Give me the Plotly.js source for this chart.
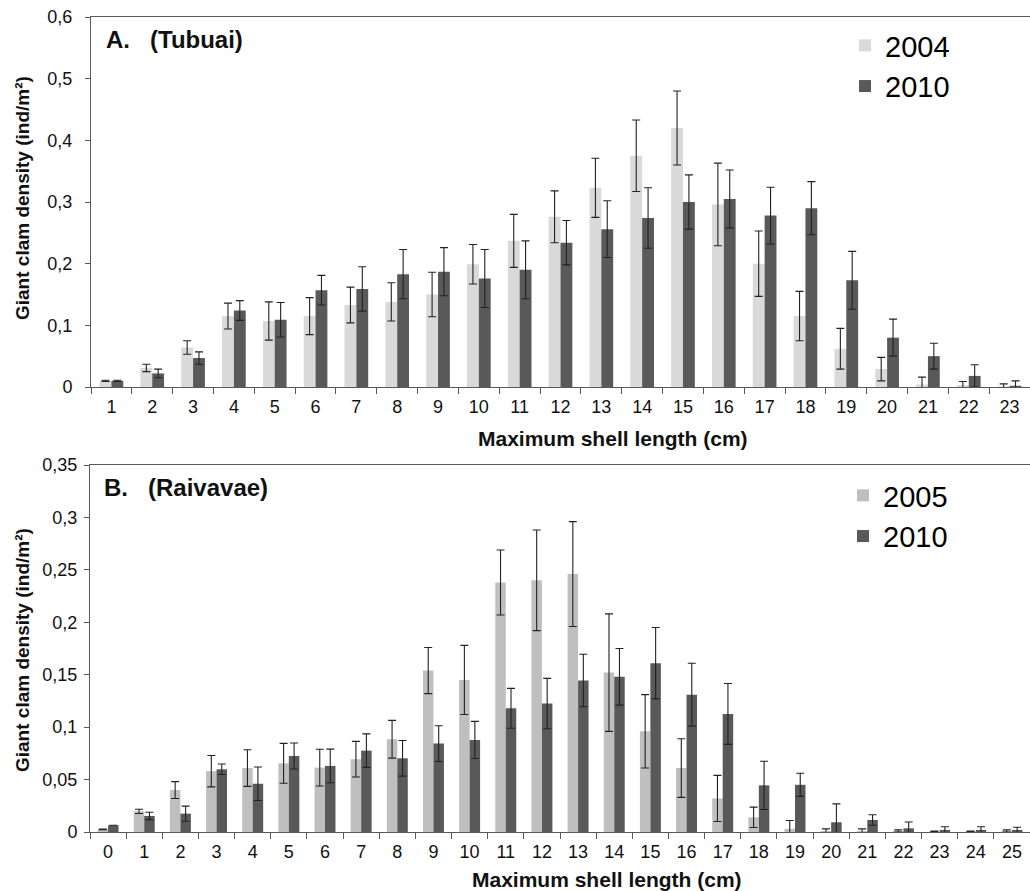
<!DOCTYPE html>
<html>
<head>
<meta charset="utf-8">
<script src="https://cdn.plot.ly/plotly-3.0.1.min.js"></script>
<style>
  html, body { margin: 0; padding: 0; background: #ffffff; }
  #chart { width: 1030px; height: 891px; }
</style>
</head>
<body>
<div id="chart"></div>
<script>
// ---------- Data: A. Tubuai ----------
const tubuaiCats = ['1','2','3','4','5','6','7','8','9','10','11','12','13','14','15','16','17','18','19','20','21','22','23'];
const tubuai2004 = [0.010, 0.031, 0.064, 0.115, 0.107, 0.115, 0.133, 0.138, 0.150, 0.199, 0.237, 0.276, 0.323, 0.375, 0.420, 0.296, 0.200, 0.115, 0.062, 0.029, 0.004, 0.003, 0.001];
const tubuai2004Err = [0.001, 0.006, 0.011, 0.021, 0.031, 0.030, 0.029, 0.031, 0.036, 0.032, 0.043, 0.042, 0.048, 0.058, 0.060, 0.067, 0.053, 0.040, 0.033, 0.019, 0.012, 0.006, 0.004];
const tubuai2010 = [0.010, 0.022, 0.047, 0.124, 0.109, 0.157, 0.159, 0.183, 0.187, 0.176, 0.190, 0.234, 0.256, 0.274, 0.300, 0.305, 0.278, 0.290, 0.173, 0.080, 0.050, 0.018, 0.002];
const tubuai2010Err = [0.001, 0.007, 0.010, 0.016, 0.028, 0.024, 0.036, 0.040, 0.039, 0.047, 0.047, 0.036, 0.046, 0.049, 0.044, 0.047, 0.046, 0.043, 0.047, 0.030, 0.021, 0.018, 0.008];

// ---------- Data: B. Raivavae ----------
const raivavaeCats = ['0','1','2','3','4','5','6','7','8','9','10','11','12','13','14','15','16','17','18','19','20','21','22','23','24','25'];
const raivavae2005 = [0.0025, 0.0197, 0.040, 0.058, 0.061, 0.0655, 0.0614, 0.0694, 0.0885, 0.154, 0.145, 0.238, 0.240, 0.246, 0.152, 0.096, 0.061, 0.032, 0.014, 0.003, 0.001, 0.001, 0.001, 0.0005, 0.0005, 0.001];
const raivavae2005Err = [0.0003, 0.002, 0.008, 0.015, 0.0175, 0.019, 0.0175, 0.017, 0.018, 0.022, 0.033, 0.031, 0.048, 0.050, 0.056, 0.035, 0.028, 0.022, 0.0097, 0.008, 0.002, 0.002, 0.001, 0.0005, 0.0005, 0.001];
const raivavae2010 = [0.0064, 0.0153, 0.0175, 0.0598, 0.046, 0.0725, 0.063, 0.0776, 0.0703, 0.0843, 0.0878, 0.118, 0.1225, 0.1445, 0.148, 0.161, 0.131, 0.1126, 0.0445, 0.045, 0.0093, 0.0115, 0.0035, 0.002, 0.002, 0.002];
const raivavae2010Err = [0, 0.0035, 0.0072, 0.005, 0.016, 0.0124, 0.016, 0.016, 0.017, 0.017, 0.0177, 0.019, 0.024, 0.025, 0.027, 0.034, 0.030, 0.029, 0.023, 0.011, 0.0175, 0.005, 0.006, 0.003, 0.003, 0.0025];

// ---------- Labels ----------
const panelA = 'A.   (Tubuai)';
const panelB = 'B.   (Raivavae)';
const xTitle = 'Maximum shell length (cm)';
const yTitle = 'Giant clam density (ind/m²)';

const FONT = 'Liberation Sans, Arial, sans-serif';
const LIGHT_A = '#d9d9d9';
const LIGHT_B = '#bfbfbf';
const DARK = '#595959';
const ERR = '#222222';

function errObj(arr) {
  return { type: 'data', array: arr, visible: true, color: ERR, thickness: 1.1, width: 4 };
}

const traces = [
  { type: 'bar', name: '2004', x: tubuaiCats, y: tubuai2004, error_y: errObj(tubuai2004Err),
    marker: { color: LIGHT_A }, xaxis: 'x', yaxis: 'y', legend: 'legend' },
  { type: 'bar', name: '2010', x: tubuaiCats, y: tubuai2010, error_y: errObj(tubuai2010Err),
    marker: { color: DARK }, xaxis: 'x', yaxis: 'y', legend: 'legend' },
  { type: 'bar', name: '2005', x: raivavaeCats, y: raivavae2005, error_y: errObj(raivavae2005Err),
    marker: { color: LIGHT_B }, xaxis: 'x2', yaxis: 'y2', legend: 'legend2' },
  { type: 'bar', name: '2010', x: raivavaeCats, y: raivavae2010, error_y: errObj(raivavae2010Err),
    marker: { color: DARK }, xaxis: 'x2', yaxis: 'y2', legend: 'legend2' }
];

const W = 1030, H = 891;
const px = v => v / W;
const py = v => 1 - v / H;

const axisCommonX = {
  type: 'category', showgrid: false, zeroline: false,
  showline: true, linecolor: '#595959', linewidth: 1, mirror: true,
  ticks: 'outside', tickson: 'boundaries', ticklen: 6, tickcolor: '#595959',
  tickfont: { family: FONT, size: 18, color: '#111' }, ticklabelstandoff: 3
};
const axisCommonY = {
  showgrid: false, zeroline: false, showline: true, linecolor: '#595959', linewidth: 1,
  ticks: 'outside', ticklen: 5, tickcolor: '#595959',
  tickfont: { family: FONT, size: 18, color: '#111' }
};

const layout = {
  width: W, height: H,
  margin: { l: 0, r: 0, t: 0, b: 0 },
  paper_bgcolor: '#ffffff', plot_bgcolor: '#ffffff',
  separators: ', ',
  barmode: 'group', bargap: 0.42, bargroupgap: 0,
  font: { family: FONT, color: '#111' },
  xaxis: Object.assign({}, axisCommonX, { domain: [px(91), 1], range: [-0.5, 22.5], anchor: 'y' }),
  yaxis: Object.assign({}, axisCommonY, { domain: [py(387), py(17)], range: [0, 0.6], dtick: 0.1, anchor: 'x', ticklabelstandoff: 9 }),
  xaxis2: Object.assign({}, axisCommonX, { domain: [px(90), 1], range: [-0.5, 25.5], anchor: 'y2' }),
  yaxis2: Object.assign({}, axisCommonY, { domain: [py(832), py(465)], range: [0, 0.35], dtick: 0.05, anchor: 'x2', ticklabelstandoff: 3 }),
  legend: {
    x: px(845), y: py(20), xanchor: 'left', yanchor: 'top',
    bgcolor: 'rgba(0,0,0,0)', font: { family: FONT, size: 29, color: '#000' },
    traceorder: 'normal'
  },
  legend2: {
    x: px(843), y: py(470), xanchor: 'left', yanchor: 'top',
    bgcolor: 'rgba(0,0,0,0)', font: { family: FONT, size: 29, color: '#000' },
    traceorder: 'normal'
  },
  annotations: [
    { text: panelA, xref: 'paper', yref: 'paper', x: px(104), y: py(39), xanchor: 'left', yanchor: 'middle',
      showarrow: false, font: { family: FONT, size: 24, color: '#111', weight: 'bold' } },
    { text: panelB, xref: 'paper', yref: 'paper', x: px(102), y: py(488), xanchor: 'left', yanchor: 'middle',
      showarrow: false, font: { family: FONT, size: 24, color: '#111', weight: 'bold' } },
    { text: xTitle, xref: 'paper', yref: 'paper', x: px(613), y: py(438), xanchor: 'center', yanchor: 'middle',
      showarrow: false, font: { family: FONT, size: 21, color: '#111', weight: 'bold' } },
    { text: xTitle, xref: 'paper', yref: 'paper', x: px(607), y: py(879), xanchor: 'center', yanchor: 'middle',
      showarrow: false, font: { family: FONT, size: 21, color: '#111', weight: 'bold' } },
    { text: yTitle, xref: 'paper', yref: 'paper', x: px(22), y: py(198), xanchor: 'center', yanchor: 'middle',
      textangle: -90, showarrow: false, font: { family: FONT, size: 19, color: '#111', weight: 'bold' } },
    { text: yTitle, xref: 'paper', yref: 'paper', x: px(22), y: py(650), xanchor: 'center', yanchor: 'middle',
      textangle: -90, showarrow: false, font: { family: FONT, size: 19, color: '#111', weight: 'bold' } }
  ]
};

Plotly.newPlot('chart', traces, layout, { displayModeBar: false, staticPlot: true });
</script>
</body>
</html>
